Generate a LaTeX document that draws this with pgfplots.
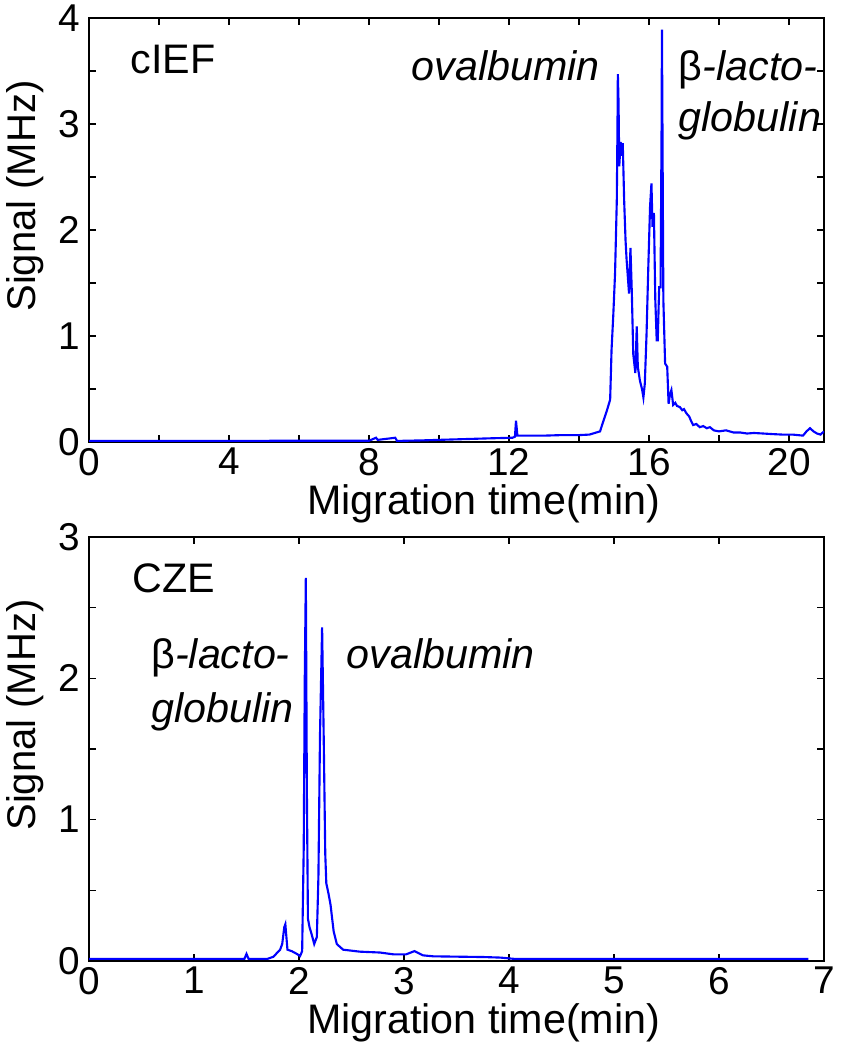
\documentclass[border=0pt]{standalone}
\usepackage{fontspec}
\setmainfont{Liberation Sans}
\usepackage{pgfplots}
\pgfplotsset{compat=1.18}
\usepackage{pgfplotstable}

% cIEF trace (min, MHz)
\pgfplotstableread{
x y
0 0.01
2 0.01
4 0.01
6 0.012
8 0.012
8.2 0.04
8.25 0.02
8.75 0.04
8.8 0.01
9.5 0.015
10.5 0.025
11.5 0.035
12.1 0.04
12.17 0.05
12.2 0.2
12.24 0.06
12.5 0.06
13.0 0.06
13.5 0.065
14.0 0.065
14.3 0.07
14.5 0.09
14.6 0.1
14.7 0.2
14.8 0.3
14.89 0.4
14.93 0.87
14.98 1.2
15.03 1.59
15.08 2.28
15.1 3.0
15.11 3.47
15.13 3.2
15.15 2.6
15.19 2.83
15.22 2.7
15.25 2.82
15.29 2.28
15.33 1.9
15.36 1.72
15.43 1.40
15.47 1.83
15.51 1.40
15.55 0.83
15.61 0.65
15.65 1.09
15.68 0.71
15.74 0.58
15.8 0.5
15.84 0.42
15.88 0.55
15.93 1.02
15.98 1.65
16.03 2.22
16.07 2.44
16.1 2.03
16.14 2.16
16.18 1.34
16.22 0.96
16.25 0.96
16.29 1.46
16.33 1.46
16.36 3.0
16.37 3.89
16.39 2.6
16.41 1.34
16.46 0.74
16.52 0.71
16.56 0.36
16.6 0.45
16.64 0.49
16.69 0.35
16.75 0.37
16.8 0.34
16.88 0.33
16.95 0.3
17.0 0.31
17.07 0.27
17.15 0.24
17.2 0.2
17.26 0.16
17.35 0.17
17.45 0.14
17.55 0.15
17.65 0.13
17.74 0.14
17.85 0.11
18.0 0.1
18.2 0.11
18.41 0.09
18.6 0.09
18.8 0.08
19.0 0.085
19.26 0.08
19.5 0.075
19.8 0.07
20.1 0.07
20.4 0.06
20.5 0.1
20.6 0.13
20.7 0.1
20.8 0.08
20.9 0.07
21.0 0.1
}\ciefdata

% CZE trace (min, MHz)
\pgfplotstableread{
x y
0 0.015
1.48 0.015
1.5 0.05
1.52 0.015
1.7 0.015
1.756 0.03
1.82 0.08
1.84 0.12
1.86 0.24
1.87 0.26
1.89 0.08
1.93 0.07
1.98 0.05
2.01 0.035
2.03 0.07
2.045 0.8
2.055 2.0
2.065 2.71
2.075 1.2
2.085 0.3
2.10 0.24
2.12 0.19
2.145 0.12
2.17 0.17
2.185 0.6
2.2 1.6
2.22 2.36
2.235 1.6
2.25 0.76
2.26 0.55
2.28 0.48
2.3 0.4
2.33 0.21
2.36 0.12
2.42 0.08
2.58 0.066
2.77 0.06
2.9 0.047
3.02 0.047
3.1 0.07
3.18 0.04
3.28 0.033
3.76 0.028
3.92 0.024
4.05 0.015
6.85 0.015
}\czedata

\pgfplotsset{
  ce/.style={
    scale only axis,
    width=294pt, height=169.6pt,
    axis line style={black, line width=0.5pt},
    tick align=inside,
    major tick length=2.8pt,
    tick style={black, line width=0.5pt},
    /pgf/number format/assume math mode=true,
    ticklabel style={font=\fontsize{15.5}{15.5}\selectfont},
    xticklabel style={yshift=1pt},
    label style={font=\fontsize{16.5}{16.5}\selectfont},
    xlabel={Migration time(min)},
    ylabel={Signal (MHz)},
    xlabel style={at={(axis description cs:0.537,-0.17)}, anchor=base},
    ylabel style={font=\fontsize{16}{16}\selectfont, at={(axis description cs:-0.087,0.58)}, rotate=0, anchor=center},
  },
  trace/.style={blue, line width=0.85pt, mark=none},
}

\begin{document}
\begin{tikzpicture}
  \begin{axis}[ce, name=top,
    xmin=0, xmax=21, ymin=0, ymax=4,
    xtick={0,2,...,20},
    xticklabels={0,,4,,8,,12,,16,,20},
    ytick={0,0.5,...,4},
    yticklabels={0,,1,,2,,3,,4},
  ]
    \addplot[trace] table[x=x, y=y] {\ciefdata};
    \node[anchor=base west, font=\fontsize{16.5}{16.5}\selectfont] at (axis cs:0.94,3.48) {cIEF};
    \node[anchor=base east, font=\fontsize{16.5}{16.5}\selectfont\itshape] at (axis cs:14.84,3.415) {ovalbumin};
    \node[anchor=base west, font=\fontsize{16.5}{16.5}\selectfont] at (axis cs:16.6,3.415) {β{\itshape -lacto-}};
    \node[anchor=base west, font=\fontsize{16.5}{16.5}\selectfont\itshape] at (axis cs:16.6,2.93) {globulin};
  \end{axis}
  \begin{axis}[ce, at={(top.south west)}, anchor=north west, yshift=-38pt,
    xmin=0, xmax=7, ymin=0, ymax=3,
    xtick={0,1,...,7},
    ytick={0,0.5,...,3},
    yticklabels={0,,1,,2,,3},
  ]
    \addplot[trace] table[x=x, y=y] {\czedata};
    \node[anchor=base west, font=\fontsize{16.5}{16.5}\selectfont] at (axis cs:0.33,2.61) {CZE};
    \node[anchor=base west, font=\fontsize{16.5}{16.5}\selectfont] at (axis cs:0.51,2.07) {β{\itshape -lacto-}};
    \node[anchor=base west, font=\fontsize{16.5}{16.5}\selectfont\itshape] at (axis cs:0.51,1.69) {globulin};
    \node[anchor=base west, font=\fontsize{16.5}{16.5}\selectfont\itshape] at (axis cs:2.37,2.07) {ovalbumin};
  \end{axis}
  \pgfresetboundingbox
  \path[use as bounding box] (top.north west) ++(-35.6pt,7.2pt) rectangle ++(337.2pt,-420pt);
\end{tikzpicture}
\end{document}
